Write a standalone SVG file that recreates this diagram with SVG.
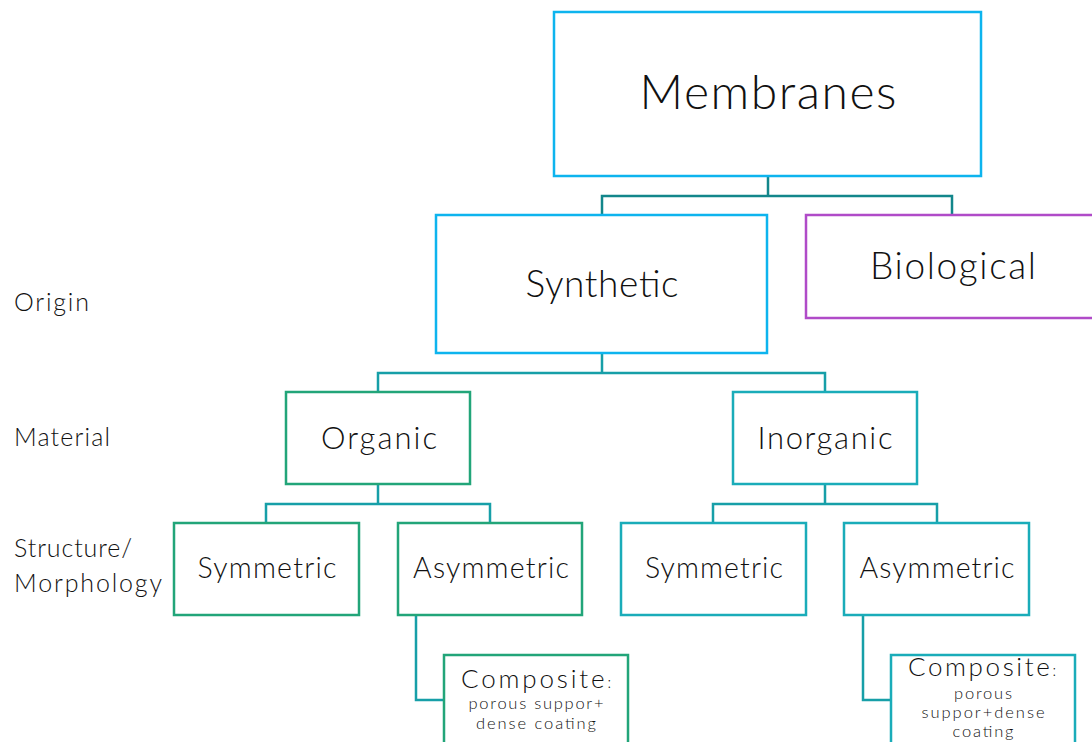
<svg xmlns="http://www.w3.org/2000/svg" width="1092" height="742" viewBox="0 0 1092 742">
<style>
text{font-family:Lato,"Noto Sans","Liberation Sans",sans-serif;font-weight:300;fill:#111;text-anchor:middle}
.lbl{text-anchor:start;font-size:25px}
.sub{font-size:16.5px}
.box{fill:#fff;stroke-width:2.5}
.cy{stroke:#0DB4EE}.pu{stroke:#B04BC8}.gr{stroke:#22A579}.te{stroke:#1AACB9}
.con{fill:none;stroke-width:2.5}
</style>
<rect width="1092" height="742" fill="#fff"/>
<g id="labels">
<text class="lbl" x="14" y="311" textLength="75" lengthAdjust="spacing">Origin</text>
<text class="lbl" x="14" y="446" textLength="96" lengthAdjust="spacing">Material</text>
<text class="lbl" x="14" y="557" textLength="118" lengthAdjust="spacing">Structure/</text>
<text class="lbl" x="14" y="592" textLength="148" lengthAdjust="spacing">Morphology</text>
</g>
<g id="connectors">
<path class="con" stroke="#12868B" d="M768,176V196M602,215V196H952V215"/>
<path class="con" stroke="#179FA8" d="M602,353V373M378,392V373H825V392"/>
<path class="con" stroke="#179FA8" d="M378,484V504M266,523V504H490V523"/>
<path class="con" stroke="#179FA8" d="M825,484V504M713,523V504H937V523"/>
<path class="con" stroke="#179FA8" d="M416,615V700H444"/>
<path class="con" stroke="#179FA8" d="M863,615V700H891"/>
</g>
<g id="membranes"><rect class="box cy" x="554" y="12" width="427" height="164"/><text x="768" y="109" font-size="48" textLength="257" lengthAdjust="spacing">Membranes</text></g>
<g id="synthetic"><rect class="box cy" x="436" y="215" width="331" height="138"/><text x="602" y="297" font-size="37" textLength="153" lengthAdjust="spacing">Synthetic</text></g>
<g id="biological"><rect class="box pu" x="806" y="215" width="300" height="103"/><text x="953" y="279" font-size="37" textLength="166" lengthAdjust="spacing">Biological</text></g>
<g id="organic"><rect class="box gr" x="286" y="392" width="184" height="92"/><text x="379" y="449" font-size="31" textLength="116" lengthAdjust="spacing">Organic</text></g>
<g id="inorganic"><rect class="box te" x="733" y="392" width="184" height="92"/><text x="825" y="449" font-size="31" textLength="135" lengthAdjust="spacing">Inorganic</text></g>
<g id="sym-org"><rect class="box gr" x="174" y="523" width="185" height="92"/><text x="267" y="578" font-size="28.5" textLength="139" lengthAdjust="spacing">Symmetric</text></g>
<g id="asym-org"><rect class="box gr" x="398" y="523" width="184" height="92"/><text x="491" y="578" font-size="28.5" textLength="156" lengthAdjust="spacing">Asymmetric</text></g>
<g id="sym-inorg"><rect class="box te" x="621" y="523" width="185" height="92"/><text x="714" y="578" font-size="28.5" textLength="138" lengthAdjust="spacing">Symmetric</text></g>
<g id="asym-inorg"><rect class="box te" x="844" y="523" width="185" height="92"/><text x="937" y="578" font-size="28.5" textLength="155" lengthAdjust="spacing">Asymmetric</text></g>
<g id="composite-org"><rect class="box gr" x="444" y="655" width="184" height="100"/>
<text x="536" y="688" font-size="26" textLength="150" lengthAdjust="spacing">Composite<tspan font-size="15">:</tspan></text>
<text class="sub" x="536" y="709" textLength="135" lengthAdjust="spacing">porous suppor+</text>
<text class="sub" x="536" y="729" textLength="120" lengthAdjust="spacing">dense coating</text></g>
<g id="composite-inorg"><rect class="box te" x="891" y="655" width="184" height="100"/>
<text x="982" y="676" font-size="26" textLength="148" lengthAdjust="spacing">Composite<tspan font-size="15">:</tspan></text>
<text class="sub" x="983" y="699" textLength="58" lengthAdjust="spacing">porous</text>
<text class="sub" x="983" y="718" textLength="123" lengthAdjust="spacing">suppor+dense</text>
<text class="sub" x="983" y="737" textLength="61" lengthAdjust="spacing">coating</text></g>
</svg>
